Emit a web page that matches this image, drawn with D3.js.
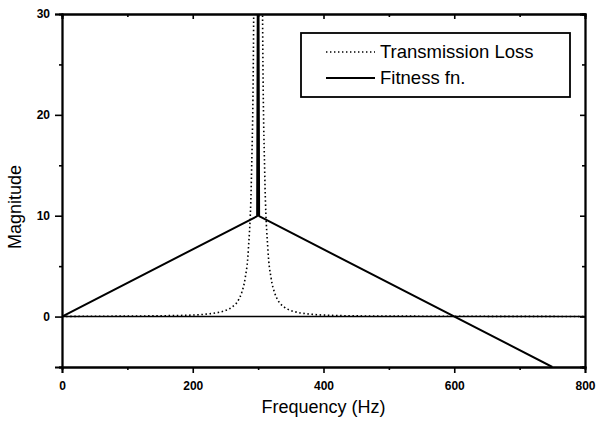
<!DOCTYPE html>
<html>
<head>
<meta charset="utf-8">
<script src="https://cdn.jsdelivr.net/npm/d3@7"></script>
<style>
  body { margin: 0; background: #fff; }
  text { font-family: "Liberation Sans", Arial, sans-serif; fill: #000; }
  .tick-label { font-size: 12px; font-weight: bold; }
  .axis-label { font-size: 18px; }
  .legend-text { font-size: 18.5px; }
</style>
</head>
<body>
<div id="chart"></div>
<script>
// data
const tlFreq = [0, 50, 100, 150, 200, 220, 240, 250, 260, 270, 275, 280, 285, 290, 293, 295, 297, 300,
                303, 305, 307, 310, 315, 320, 325, 330, 340, 350, 360, 380, 400, 450, 500, 600, 700, 800];
const tlValue = [0.02, 0.03, 0.05, 0.08, 0.15, 0.24, 0.42, 0.6, 0.94, 1.65, 2.4, 3.75, 6.6, 14.5, 28, 55, 150, 300,
                 150, 55, 28, 14.5, 6.6, 3.75, 2.4, 1.65, 0.94, 0.6, 0.42, 0.24, 0.15, 0.07, 0.05, 0.03, 0.02, 0.01];

const fitFreq = [0, 298.5, 299.8, 300.2, 301.5, 750];
const fitValue = [0, 9.95, 40, 40, 9.95, -5];

const zeroFreq = [0, 800];
const zeroValue = [0, 0];

const xTicks = [0, 200, 400, 600, 800];
const xMinor = [100, 300, 500, 700];
const yTicks = [0, 10, 20, 30];
const yMinor = [-5, 5, 15, 25];

const legendLabels = ['Transmission Loss', 'Fitness fn.'];

// chart static params
const W = 596, H = 427;
const margin = {top: 14, right: 11, bottom: 60, left: 62},
    width = W - margin.left - margin.right,
    height = H - margin.top - margin.bottom;

const xScale = d3.scaleLinear().domain([0, 800]).range([0, width]);
const yScale = d3.scaleLinear().domain([-5, 30]).range([height, 0]);

const svg = d3.select('#chart').append('svg')
    .attr('width', W).attr('height', H)
  .append('g')
    .attr('transform', `translate(${margin.left},${margin.top})`);

svg.append('clipPath').attr('id', 'clip')
  .append('rect').attr('width', width).attr('height', height);

const line = d3.line().x(d => xScale(d[0])).y(d => yScale(d[1]));
const zip = (a, b) => a.map((v, i) => [v, b[i]]);

const plot = svg.append('g').attr('clip-path', 'url(#clip)');

// zero line
plot.append('path')
  .attr('d', line(zip(zeroFreq, zeroValue)))
  .attr('fill', 'none').attr('stroke', '#000').attr('stroke-width', 1.6);

// transmission loss (dotted)
plot.append('path')
  .attr('d', d3.line().x(d => xScale(d[0])).y(d => yScale(d[1])).curve(d3.curveMonotoneX)(zip(tlFreq, tlValue)))
  .attr('fill', 'none').attr('stroke', '#000').attr('stroke-width', 1.6)
  .attr('stroke-dasharray', '1.5,2.6');

// fitness fn
plot.append('path')
  .attr('d', line(zip(fitFreq, fitValue)))
  .attr('fill', 'none').attr('stroke', '#000').attr('stroke-width', 2)
  .attr('stroke-linejoin', 'bevel');

// axes
const xAxisB = d3.axisBottom(xScale).tickValues(xTicks).tickSize(6).tickFormat(d3.format('d'));
const xAxisBm = d3.axisBottom(xScale).tickValues(xMinor).tickSize(3).tickFormat('');
const yAxisL = d3.axisLeft(yScale).tickValues(yTicks).tickSize(7).tickFormat(d3.format('d'));
const yAxisLm = d3.axisLeft(yScale).tickValues(yMinor).tickSize(3).tickFormat('');

const styleAxis = g => {
  g.select('.domain').attr('stroke', '#000').attr('stroke-width', 1.8);
  g.selectAll('.tick line').attr('stroke', '#000').attr('stroke-width', 1.6);
  g.selectAll('.tick text').attr('class', 'tick-label').attr('fill', '#000');
};

svg.append('g').attr('transform', `translate(0,${height})`).call(xAxisB).call(styleAxis)
  .selectAll('.tick text').attr('dy', '1.15em');
svg.append('g').attr('transform', `translate(0,${height})`).call(xAxisBm).call(styleAxis);
svg.append('g').call(yAxisL).call(styleAxis)
  .selectAll('.tick text').attr('x', -12);
svg.append('g').call(yAxisLm).call(styleAxis);

// mirrored axes (top / right), ticks inward
svg.append('g').call(d3.axisBottom(xScale).tickValues(xTicks).tickSize(5).tickFormat('')).call(styleAxis);
svg.append('g').call(d3.axisBottom(xScale).tickValues(xMinor).tickSize(3).tickFormat('')).call(styleAxis);
svg.append('g').attr('transform', `translate(${width},0)`)
  .call(d3.axisLeft(yScale).tickValues(yTicks).tickSize(5).tickFormat('')).call(styleAxis);
svg.append('g').attr('transform', `translate(${width},0)`)
  .call(d3.axisLeft(yScale).tickValues(yMinor).tickSize(3).tickFormat('')).call(styleAxis);

// axis labels
svg.append('text')
  .attr('class', 'axis-label')
  .attr('text-anchor', 'middle')
  .attr('transform', `translate(${width / 2},${height + 46})`)
  .text('Frequency (Hz)');

svg.append('text')
  .attr('class', 'axis-label')
  .attr('text-anchor', 'middle')
  .attr('transform', `translate(${-margin.left + 21},${193}) rotate(-90)`)
  .text('Magnitude');

// legend
const lg = svg.append('g').attr('transform', `translate(${301 - margin.left},${33 - margin.top})`);
lg.append('rect')
  .attr('width', 269).attr('height', 64)
  .attr('fill', '#fff').attr('stroke', '#000').attr('stroke-width', 1.8);
legendLabels.forEach((lab, i) => {
  const yy = 19 + i * 26;
  lg.append('line')
    .attr('x1', 25).attr('x2', 74).attr('y1', yy).attr('y2', yy)
    .attr('stroke', '#000')
    .attr('stroke-width', i === 0 ? 1.4 : 2)
    .attr('stroke-dasharray', i === 0 ? '1.4,2.6' : null);
  lg.append('text')
    .attr('class', 'legend-text')
    .attr('x', 79).attr('y', yy + 6)
    .text(lab);
});
</script>
</body>
</html>
